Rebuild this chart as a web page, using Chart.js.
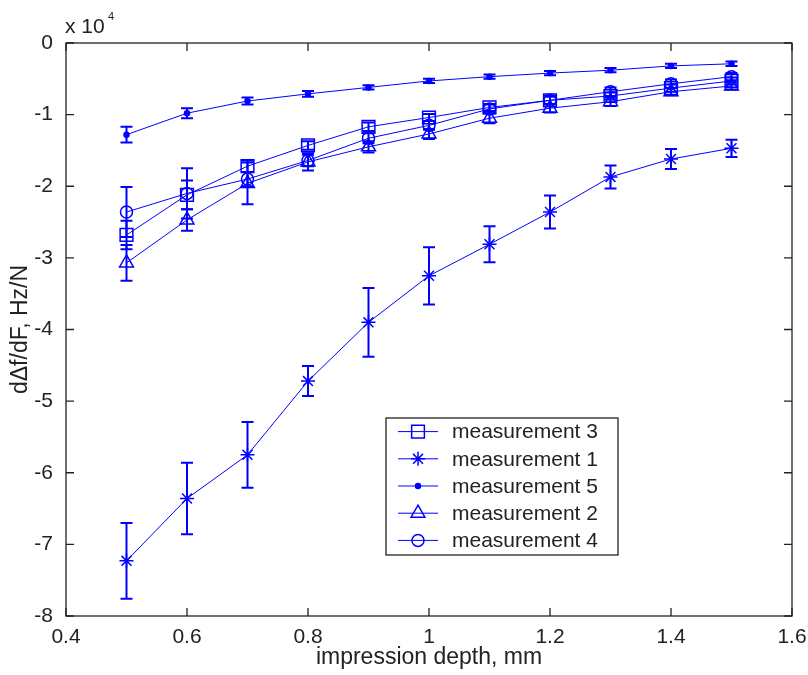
<!DOCTYPE html>
<html lang="en">
<head>
    <meta charset="UTF-8">
    <title>Impression depth sensitivity</title>
    <script src="https://cdn.jsdelivr.net/npm/chart.js@4.4.1/dist/chart.umd.min.js"></script>
    <style>
        body {
            margin: 0;
            background-color: #ffffff;
        }
        canvas {
            display: block;
        }
    </style>
</head>
<body>
    <canvas id="sensChart" width="808" height="675"></canvas>

    <script>
        // values (x 10^4)
        const depth = [0.5, 0.6, 0.7, 0.8, 0.9, 1.0, 1.1, 1.2, 1.3, 1.4, 1.5];
        const xTicks = [0.4, 0.6, 0.8, 1, 1.2, 1.4, 1.6];
        const yTicks = [0, -1, -2, -3, -4, -5, -6, -7, -8];

        const meas3 = [-2.68, -2.12, -1.72, -1.43, -1.17, -1.04, -0.90, -0.80, -0.74, -0.63, -0.53];
        const meas3Err = [0.20, 0.20, 0.08, 0.06, 0.06, 0.05, 0.05, 0.05, 0.05, 0.05, 0.05];
        const meas1 = [-7.23, -6.36, -5.75, -4.72, -3.90, -3.25, -2.81, -2.36, -1.87, -1.62, -1.47];
        const meas1Err = [0.53, 0.50, 0.46, 0.21, 0.48, 0.40, 0.25, 0.23, 0.16, 0.14, 0.12];
        const meas5 = [-1.28, -0.98, -0.81, -0.71, -0.62, -0.53, -0.47, -0.42, -0.38, -0.32, -0.29];
        const meas5Err = [0.11, 0.07, 0.05, 0.04, 0.03, 0.03, 0.03, 0.03, 0.03, 0.03, 0.03];
        const meas2 = [-3.07, -2.47, -1.96, -1.66, -1.45, -1.27, -1.05, -0.91, -0.82, -0.68, -0.60];
        const meas2Err = [0.25, 0.15, 0.29, 0.12, 0.08, 0.07, 0.07, 0.06, 0.06, 0.05, 0.05];
        const meas4 = [-2.36, -2.10, -1.90, -1.64, -1.33, -1.15, -0.92, -0.80, -0.68, -0.57, -0.47];
        const meas4Err = [0.35, 0.35, 0.10, 0.08, 0.07, 0.06, 0.06, 0.06, 0.06, 0.06, 0.05];

        const BLUE = 'rgb(0, 0, 255)';
        const INK = '#222222';
        const FONT = '"Liberation Sans", Arial, sans-serif';

        function series(label, values, errors, style, radius, filled) {
            return {
                label: label,
                data: depth.map((d, i) => ({ x: d, y: values[i] })),
                errors: errors,
                borderColor: BLUE,
                borderWidth: 1,
                pointStyle: style,
                pointRadius: radius,
                pointBorderWidth: 1.5,
                pointBorderColor: BLUE,
                pointBackgroundColor: filled ? BLUE : 'rgba(0,0,0,0)',
                tension: 0
            };
        }

        // vertical error bars with caps
        const errorBars = {
            id: 'errorBars',
            afterDatasetsDraw(chart) {
                const ctx = chart.ctx;
                const xs = chart.scales.x, ys = chart.scales.y;
                ctx.save();
                ctx.strokeStyle = BLUE;
                ctx.lineWidth = 2;
                chart.data.datasets.forEach(ds => {
                    ds.data.forEach((p, i) => {
                        const e = ds.errors[i];
                        const px = xs.getPixelForValue(p.x);
                        const top = ys.getPixelForValue(p.y + e);
                        const bot = ys.getPixelForValue(p.y - e);
                        ctx.beginPath();
                        ctx.moveTo(px, top);
                        ctx.lineTo(px, bot);
                        ctx.moveTo(px - 6, top);
                        ctx.lineTo(px + 6, top);
                        ctx.moveTo(px - 6, bot);
                        ctx.lineTo(px + 6, bot);
                        ctx.stroke();
                    });
                });
                ctx.restore();
            }
        };

        // box round the plot with inward tick marks, plus the exponent note
        const frame = {
            id: 'frame',
            afterDraw(chart) {
                const ctx = chart.ctx;
                const a = chart.chartArea;
                const xs = chart.scales.x, ys = chart.scales.y;
                const len = 8;
                ctx.save();
                ctx.strokeStyle = INK;
                ctx.lineWidth = 1.3;
                ctx.strokeRect(a.left, a.top, a.right - a.left, a.bottom - a.top);
                ctx.beginPath();
                xs.ticks.forEach(t => {
                    const px = xs.getPixelForValue(t.value);
                    ctx.moveTo(px, a.bottom);
                    ctx.lineTo(px, a.bottom - len);
                    ctx.moveTo(px, a.top);
                    ctx.lineTo(px, a.top + len);
                });
                ys.ticks.forEach(t => {
                    const py = ys.getPixelForValue(t.value);
                    ctx.moveTo(a.left, py);
                    ctx.lineTo(a.left + len, py);
                    ctx.moveTo(a.right, py);
                    ctx.lineTo(a.right - len, py);
                });
                ctx.stroke();

                ctx.fillStyle = INK;
                ctx.textBaseline = 'alphabetic';
                ctx.textAlign = 'left';
                ctx.font = '21px ' + FONT;
                ctx.fillText('x 10', a.left - 1, a.top - 10);
                ctx.font = '11px ' + FONT;
                ctx.fillText('4', a.left + 42, a.top - 23);
                ctx.restore();
            }
        };

        // legend box inside the plot
        const boxLegend = {
            id: 'boxLegend',
            afterDraw(chart, args, opts) {
                const ctx = chart.ctx;
                const a = chart.chartArea;
                const left = a.left + opts.left, top = a.top + opts.top;
                const rowH = opts.rowHeight;
                const sets = chart.data.datasets;
                const height = rowH * sets.length + 1;
                ctx.save();
                ctx.fillStyle = '#ffffff';
                ctx.fillRect(left, top, opts.width, height);
                ctx.strokeStyle = INK;
                ctx.lineWidth = 1.3;
                ctx.strokeRect(left, top, opts.width, height);
                ctx.font = '21px ' + FONT;
                ctx.textBaseline = 'middle';
                ctx.textAlign = 'left';
                sets.forEach((ds, i) => {
                    const y = top + rowH * (i + 0.5);
                    ctx.strokeStyle = BLUE;
                    ctx.lineWidth = 1;
                    ctx.beginPath();
                    ctx.moveTo(left + 12, y);
                    ctx.lineTo(left + 52, y);
                    ctx.stroke();
                    ctx.fillStyle = ds.pointBackgroundColor;
                    ctx.strokeStyle = BLUE;
                    ctx.lineWidth = ds.pointBorderWidth;
                    Chart.helpers.drawPoint(ctx, {
                        pointStyle: ds.pointStyle,
                        radius: ds.pointRadius,
                        borderWidth: ds.pointBorderWidth,
                        rotation: 0
                    }, left + 32, y);
                    ctx.fillStyle = INK;
                    ctx.fillText(ds.label, left + 66, y + 1);
                });
                ctx.restore();
            }
        };

        new Chart(document.getElementById('sensChart'), {
            type: 'line',
            data: {
                datasets: [
                    series('measurement 3', meas3, meas3Err, 'rect', 9, false),
                    series('measurement 1', meas1, meas1Err, 'star', 7, false),
                    series('measurement 5', meas5, meas5Err, 'circle', 2.5, true),
                    series('measurement 2', meas2, meas2Err, 'triangle', 8, false),
                    series('measurement 4', meas4, meas4Err, 'circle', 6, false)
                ]
            },
            options: {
                responsive: false,
                animation: false,
                layout: {
                    padding: { top: 43, right: 16, bottom: 0, left: 0 }
                },
                scales: {
                    x: {
                        type: 'linear',
                        min: 0.4,
                        max: 1.6,
                        afterBuildTicks: scale => {
                            scale.ticks = xTicks.map(v => ({ value: v }));
                        },
                        afterFit: scale => {
                            scale.height = 59;
                            scale.paddingLeft = 0;
                            scale.paddingRight = 0;
                        },
                        grid: { display: false, drawTicks: false },
                        border: { display: false },
                        ticks: {
                            color: INK,
                            padding: 9,
                            maxRotation: 0,
                            font: { family: FONT, size: 21 },
                            callback: value => String(Math.round(value * 10) / 10)
                        },
                        title: {
                            display: true,
                            text: 'impression depth, mm',
                            color: INK,
                            font: { family: FONT, size: 23 },
                            padding: { top: 0, bottom: 4 }
                        }
                    },
                    y: {
                        type: 'linear',
                        min: -8,
                        max: 0,
                        afterBuildTicks: scale => {
                            scale.ticks = yTicks.map(v => ({ value: v }));
                        },
                        afterFit: scale => {
                            scale.width = 66;
                            scale.paddingTop = 0;
                            scale.paddingBottom = 0;
                        },
                        grid: { display: false, drawTicks: false },
                        border: { display: false },
                        ticks: {
                            color: INK,
                            padding: 13,
                            font: { family: FONT, size: 21 },
                            callback: value => String(value)
                        },
                        title: {
                            display: true,
                            text: 'dΔf/dF, Hz/N',
                            color: INK,
                            font: { family: FONT, size: 23 },
                            padding: { top: 7, bottom: 0 }
                        }
                    }
                },
                plugins: {
                    legend: { display: false },
                    tooltip: { enabled: false },
                    boxLegend: { left: 320, top: 375, width: 232, rowHeight: 27.2 }
                }
            },
            plugins: [errorBars, frame, boxLegend]
        });
    </script>
</body>
</html>
